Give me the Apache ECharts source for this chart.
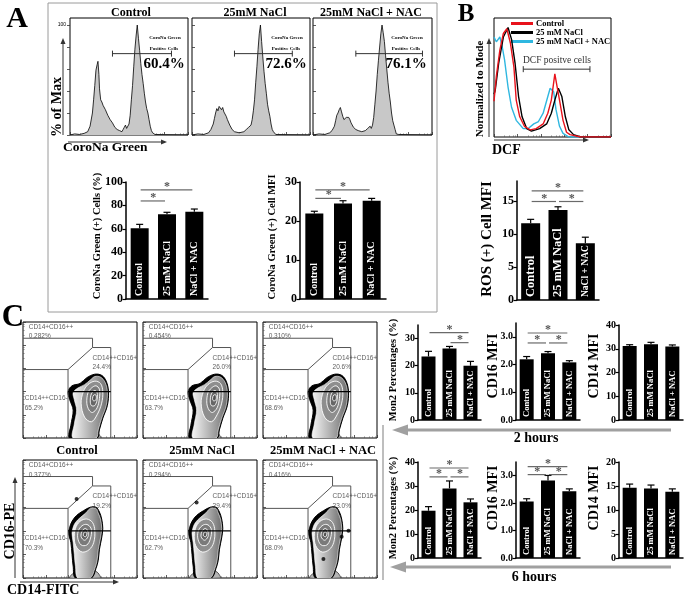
<!DOCTYPE html>
<html><head><meta charset="utf-8">
<script src="https://cdn.jsdelivr.net/npm/echarts@6/dist/echarts.min.js"></script>
<style>html,body{margin:0;padding:0;background:#fff}#c{width:686px;height:599px}</style>
</head><body><div id="c"></div><script>
const SERIF = '"Liberation Serif","Times New Roman",serif';
const SANS = '"Liberation Sans",Arial,sans-serif';

// ================= DATA =================
const groups = ['Control', '25 mM NaCl', 'NaCl + NAC'];
const histTitles = ['Control', '25mM NaCl', '25mM NaCl + NAC'];
const coronaPct = ['60.4%', '72.6%', '76.1%'];
const coronaGateLabel = ['CoroNa Green', 'Positive Cells'];
const histYTicks = [0, 20, 40, 60, 80, 100];
// x: channel (0-100 of the log scale), y: % of max
const histControl = [[0,0],[4,1],[8,0.5],[12,1.5],[15,3],[17,8],[19,20],[20,32],[21,45],[22,59],[23,64],[23.7,67],[24.5,55],[25,42],[26,32],[27,30],[28,27],[30,23],[32,18],[34,14],[36,11],[38,7],[40,5],[42,4],[44,3],[45,5],[46,7],[47,9],[48,6],[49,5],[50,10],[51,18],[52,32],[53,45],[54,62],[55,78],[56,90],[57,100],[58,88],[59,77],[60,65],[61,55],[62,47],[63,38],[64,30],[65,24],[66,20],[67,14],[68,8],[69,4],[70,2],[72,0.5],[80,0.3],[100,0]];
const histNaCl = [[0,0],[5,1],[10,0.5],[14,2],[16,5],[18,10],[19,15],[20,20],[21,24],[22,22],[23,26],[24,25],[25,23],[26,25],[27,21],[28,20],[29,17],[30,14],[32,9],[34,5],[36,3],[40,2],[44,3],[46,5],[48,7],[49,6],[50,9],[51,14],[52,22],[53,32],[54,48],[55,62],[56,78],[57,92],[58,100],[59,85],[60,71],[61,58],[62,47],[63,38],[64,28],[65,22],[66,17],[67,10],[68,5],[69,3],[71,0.5],[80,0.3],[100,0]];
const histNAC = [[0,0],[5,1],[10,0.5],[14,2],[16,4],[18,8],[19,13],[20,18],[21,20],[22,23],[23,25],[24,21],[25,17],[26,14],[27,15],[28,16],[29,17],[30,16],[31,14],[32,11],[34,7],[36,5],[38,4],[41,3],[44,4],[46,6],[48,8],[49,6],[50,9],[51,16],[52,28],[53,40],[54,55],[55,68],[56,80],[57,92],[58,100],[59,93],[60,85],[61,72],[62,60],[63,48],[64,38],[65,30],[66,20],[67,13],[68,9],[69,5],[70,1],[72,0.5],[80,0.3],[100,0]];
const coronaGates = [[36, 86, 74], [36, 85, 74], [36, 92, 74]]; // [from, to, level]

const dcfNames = ['Control', '25 mM NaCl', '25 mM NaCl + NAC'];
const dcfControl = [[0,30],[2,51],[5,73],[8,87],[11,91],[14,79],[17,59],[19,31],[22,17],[26,9],[31,6],[36,7],[42,11],[46,20],[49,31],[52,53],[54,42],[56,31],[59,14],[62,4],[65,2],[74,0],[100,0]];
const dcfNaCl = [[0,36],[1,39],[4,62],[8,84],[12,92],[15,82],[18,62],[21,34],[24,17],[28,7],[32,5],[39,7],[45,11],[49,20],[52,31],[55,41],[58,34],[61,17],[64,6],[68,2],[74,0],[100,0]];
const dcfNAC = [[0,84],[2,80],[5,84],[7,76],[9,65],[12,42],[15,25],[19,14],[25,7],[29,7],[34,11],[38,13],[42,20],[46,34],[48,41],[51,38],[53,23],[56,9],[59,3],[64,0],[100,0]];
const dcfGate = [[25, 82, 57]];
const dcfGateLabel = 'DCF positve cells';

const coronaCells = [60.5, 72.4, 74.6];
const coronaCellsErr = [3.3, 1.7, 2.3];
const coronaCellsSig = [[0, 1, 83.8], [0, 2, 93.2]];
const coronaCellsTicks = [0, 20, 40, 60, 80, 100];
const coronaMFI = [21.9, 24.5, 25.2];
const coronaMFIErr = [0.6, 0.7, 0.6];
const coronaMFISig = [[0, 1, 25.8], [0, 2, 28.0]];
const coronaMFITicks = [0, 10, 20, 30];
const rosMFI = [11.6, 13.6, 8.6];
const rosMFIErr = [0.6, 0.5, 0.9];
const rosMFISig = [[0, 2, 16.5], [0, 1, 14.9], [1, 2, 14.9]];
const rosTicks = [0, 5, 10, 15];

const mon2_2h = [23.4, 26.3, 20.0];
const mon2_2hErr = [1.9, 0.8, 1.6];
const mon2_2hSig = [[0, 2, 32.2], [1, 2, 28.5]];
const cd16_2h = [2.19, 2.41, 2.08];
const cd16_2hErr = [0.1, 0.06, 0.06];
const cd16_2hSig = [[0, 2, 3.14], [0, 1, 2.78], [1, 2, 2.78]];
const cd14_2h = [31.2, 31.9, 31.0];
const cd14_2hErr = [0.5, 0.8, 0.6];
const mon2_6h = [19.7, 29.0, 23.2];
const mon2_6hErr = [1.7, 3.1, 1.4];
const mon2_6hSig = [[0, 2, 37.5], [0, 1, 33.8], [1, 2, 33.8]];
const cd16_6h = [2.06, 2.83, 2.43];
const cd16_6hErr = [0.1, 0.18, 0.09];
const cd16_6hSig = [[0, 2, 3.33], [0, 1, 3.04], [1, 2, 3.04]];
const cd14_6h = [14.65, 14.5, 13.8];
const cd14_6hErr = [0.75, 0.7, 0.6];
const mon2Ticks2h = [0, 10, 20, 30];
const mon2Ticks6h = [0, 10, 20, 30, 40];
const cd16Ticks = [0, 1, 2, 3];
const cd14Ticks2h = [0, 10, 20, 30, 40];
const cd14Ticks6h = [0, 5, 10, 15, 20];
const hourLabels = ['2 hours', '6 hours'];

// flow contour plots (CD14-FITC x, CD16-PE y, 0-100 display units)
const gateNames = ['CD14+CD16++', 'CD14++CD16+', 'CD14++CD16-'];
const pctUL = [['0.282%', '0.454%', '0.310%'], ['0.377%', '0.294%', '0.416%']];
const pctUR = [['24.4%', '26.0%', '20.6%'], ['19.2%', '29.4%', '23.0%']];
const pctLL = [['65.2%', '63.7%', '68.6%'], ['70.3%', '62.7%', '68.0%']];
const gatePolylines = [
  [[0,86],[61,86],[61,78]],
  [[39.5,0],[39.5,59],[61,78],[77,78],[77,0]],
  [[0,59],[39.5,59]],
  [[39.5,40],[77,40]]
];
const contour2h = [
  [[41,0],[42,11],[44,24],[41,33],[39.5,40],[43,45],[50,47],[56,52],[63,55],[69,54],[73,49],[75,40],[74,28],[70,17],[67,7],[65,0]],
  [[44,0],[45,12],[47,24],[45,33],[44,39],[48,43],[54,46],[59,50],[63,53],[68,52.5],[72,48],[74,40],[73,28],[69,17],[66,7],[64,0]],
  [[51,30],[53,40],[57,46],[63,49],[68,47],[70,40],[69,30],[65,20],[60,14],[54,18]],
  [[56,30],[57,39],[60,43],[64,45],[67,42],[67,34],[65,26],[61,22],[58,24]],
  [[59,32],[60,38],[63,41],[65,39],[65,33],[63,28],[60,28]],
  [[61,34],[62,37],[64,37],[64,33],[62,32]]
];
const contour6h = [
  [[46,0],[44,10],[43,20],[42,30],[40,38],[41,43],[43,48],[47,53],[53,57],[59,60],[64,60],[67,56],[69,50],[70,42],[69,34],[67,24],[66,15],[64,8],[60,0]],
  [[48,0],[46,10],[45,20],[44,30],[43,38],[44,43],[46,47],[50,51],[55,55],[59,59],[64,59],[66,55],[68,50],[69,42],[68,34],[66,24],[65,15],[63,8],[59,0]],
  [[45,33],[46,42],[50,48],[56,50],[61,47],[63,40],[62,30],[58,24],[52,22],[47,26]],
  [[48,34],[49,41],[53,45],[57,45],[60,41],[59,33],[56,28],[51,28]],
  [[51,35],[52,40],[55,42],[57,39],[57,35],[54,32]],
  [[53,36],[54,39],[56,38],[55,35]]
];
const debris = [[41,0],[44,4],[50,7],[58,7.5],[65,5],[68,1],[68,0]];
const outliers = [[[], [], []], [[[47,67]], [[47,64]], [[75,40],[69,35],[53,16]]]];

// ================= BUILD =================
const grids = [], xAxes = [], yAxes = [], series = [], graphics = [];
const addGrid = g => (grids.push(g), grids.length - 1);
const addX = a => (xAxes.push(a), xAxes.length - 1);
const addY = a => (yAxes.push(a), yAxes.length - 1);

function txt(x, y, text, size, opt) {
  opt = opt || {};
  graphics.push({
    type: 'text', x, y, rotation: opt.rot || 0, z: 50,
    style: { text, fontSize: size, fontFamily: opt.family || SERIF, fontWeight: opt.weight || 'bold',
      fill: opt.color || '#000', align: opt.align || 'center', verticalAlign: 'middle' }
  });
}
function arrow(x1, y1, x2, y2, color, w, hl, hw) {
  const a = Math.atan2(y2 - y1, x2 - x1);
  const bx = x2 - hl * Math.cos(a), by = y2 - hl * Math.sin(a);
  const px = -Math.sin(a) * hw, py = Math.cos(a) * hw;
  graphics.push({ type: 'line', z: 40, shape: { x1, y1, x2: bx, y2: by }, style: { stroke: color, lineWidth: w } });
  graphics.push({ type: 'polygon', z: 40, shape: { points: [[x2, y2], [bx + px, by + py], [bx - px, by - py]] }, style: { fill: color } });
}

function errRender(params, api) {
  const i = api.value(0), v = api.value(1), e = api.value(2);
  const t = api.coord([i, v + e]), b = api.coord([i, v]);
  return { type: 'group', children: [
    { type: 'line', shape: { x1: t[0], y1: b[1], x2: t[0], y2: t[1] }, style: { stroke: '#000', lineWidth: 1.2 } },
    { type: 'line', shape: { x1: t[0] - 3.5, y1: t[1], x2: t[0] + 3.5, y2: t[1] }, style: { stroke: '#000', lineWidth: 1.2 } }
  ] };
}
function sigRender(params, api) {
  const i = api.value(0), j = api.value(1), y = api.value(2);
  const a = api.coord([i, y]), b = api.coord([j, y]);
  return { type: 'group', children: [
    { type: 'line', shape: { x1: a[0] + 1, y1: a[1], x2: b[0] - 2, y2: a[1] }, style: { stroke: '#6a6a6a', lineWidth: 1.2 } },
    { type: 'text', x: (a[0] + b[0]) / 2, y: a[1] + 3, style: { text: '*', fill: '#555', fontSize: 12, fontFamily: SERIF, fontWeight: 'bold', align: 'center', verticalAlign: 'bottom' } }
  ] };
}

function barChart(o) {
  const gi = addGrid({ left: o.left, top: o.top, width: o.width, height: o.height });
  const xi = addX({ type: 'category', gridIndex: gi, data: groups,
    axisLine: { show: true, lineStyle: { color: '#000', width: 1.5 } }, axisTick: { show: false }, axisLabel: { show: false } });
  const yi = addY({ type: 'value', gridIndex: gi, min: 0, max: o.max,
    axisLine: { show: true, lineStyle: { color: '#000', width: 1.5 } },
    axisTick: { show: true, length: 3.5, customValues: o.ticks, lineStyle: { color: '#000', width: 1.2 } },
    splitLine: { show: false },
    axisLabel: { customValues: o.ticks, margin: 3, color: '#000', fontFamily: SERIF, fontWeight: 'bold', fontSize: o.tickSize,
      formatter: o.fmt || (v => String(v)) } });
  const sizes = o.labelSizes || [o.labelSize, o.labelSize, o.labelSize];
  series.push({ type: 'bar', xAxisIndex: xi, yAxisIndex: yi, barWidth: o.barWidth,
    data: o.values.map((v, i) => ({ value: v, label: { fontSize: sizes[i] } })),
    itemStyle: { color: '#000' },
    label: { show: true, position: 'insideBottom', rotate: 90, align: 'left', verticalAlign: 'middle', distance: 3, overflow: 'none',
      color: '#fff', fontFamily: SERIF, fontWeight: 'bold', fontSize: o.labelSize, formatter: p => groups[p.dataIndex] } });
  series.push({ type: 'custom', xAxisIndex: xi, yAxisIndex: yi, renderItem: errRender, z: 3,
    data: o.values.map((v, i) => [i, v, o.errs[i]]) });
  if (o.sig) series.push({ type: 'custom', xAxisIndex: xi, yAxisIndex: yi, renderItem: sigRender, z: 3,
    encode: { x: 0, y: 2 }, data: o.sig });
  txt(o.titleX, o.titleY, o.title, o.titleSize, { rot: Math.PI / 2 });
}

function logTickAxis(gi, isY) {
  return { type: 'log', gridIndex: gi, min: 1, max: 100000, position: isY ? 'left' : 'bottom',
    axisLine: { show: false }, axisLabel: { show: false }, splitLine: { show: false },
    axisTick: { show: true, inside: true, length: 3, lineStyle: { color: '#333', width: 0.8 } },
    minorTick: { show: true, splitNumber: 5, length: 1.6, lineStyle: { color: '#555', width: 0.6 } } };
}

function gateRender(params, api) {
  const a = api.coord([api.value(0), api.value(2)]), b = api.coord([api.value(1), api.value(2)]);
  const st = { stroke: '#333', lineWidth: 1 };
  return { type: 'group', children: [
    { type: 'line', shape: { x1: a[0], y1: a[1], x2: b[0], y2: b[1] }, style: st },
    { type: 'line', shape: { x1: a[0], y1: a[1] - 3, x2: a[0], y2: a[1] + 3 }, style: st },
    { type: 'line', shape: { x1: b[0], y1: b[1] - 3, x2: b[0], y2: b[1] + 3 }, style: st }
  ] };
}

// ---------- Panel A: CoroNa Green histograms ----------
const histData = [histControl, histNaCl, histNAC];
const histLeft = [70, 192, 313], histW = [118, 118, 119];
const histTitleX = [131, 255, 371], gateTxtX = [164, 286, 406];
histData.forEach((d, k) => {
  const gi = addGrid({ left: histLeft[k], top: 18, width: histW[k], height: 117, show: true, borderColor: '#000', borderWidth: 1, backgroundColor: 'transparent' });
  const xi = addX({ type: 'value', gridIndex: gi, min: 0, max: 100, position: 'top', show: false });
  addX(logTickAxis(gi, false));
  const yi = addY({ type: 'value', gridIndex: gi, min: 0, max: 106.4, position: 'left',
    axisLine: { show: false }, splitLine: { show: false },
    axisTick: { show: true, inside: k > 0, length: 3, customValues: histYTicks, lineStyle: { color: '#333', width: 0.8 } },
    axisLabel: { show: k === 0, customValues: [100], fontSize: 5, margin: 4, color: '#000', fontFamily: SANS } });
  series.push({ type: 'line', xAxisIndex: xi, yAxisIndex: yi, data: d, symbol: 'none', smooth: false,
    lineStyle: { color: '#000', width: 0.8 }, areaStyle: { color: '#c8c8c8', opacity: 1 }, z: 2 });
  series.push({ type: 'custom', xAxisIndex: xi, yAxisIndex: yi, renderItem: gateRender, z: 4,
    encode: { x: [0, 1], y: 2 }, data: [coronaGates[k]] });
  txt(histTitleX[k], 13, histTitles[k], 12);
  txt(gateTxtX[k] + 1, 38, coronaGateLabel[0], 5);
  txt(gateTxtX[k], 48.5, coronaGateLabel[1], 5);
  txt(gateTxtX[k], 64, coronaPct[k], 15);
});
arrow(63, 135, 63, 38, '#333', 1, 6, 2.5);
arrow(68, 142, 167, 142, '#333', 1, 6, 2.5);
txt(63, 148, 'CoroNa Green', 13.5, { align: 'left' });
txt(57, 107, '% of Max', 14, { rot: Math.PI / 2 });

// ---------- Panel A bars ----------
barChart({ left: 126, top: 182, width: 82, height: 117, max: 100, ticks: coronaCellsTicks, values: coronaCells, errs: coronaCellsErr,
  sig: coronaCellsSig, barWidth: 18, tickSize: 12, labelSize: 10, title: 'CoroNa Green (+) Cells (%)', titleX: 97, titleY: 236, titleSize: 10.5 });
barChart({ left: 300, top: 182, width: 86, height: 117, max: 30, ticks: coronaMFITicks, values: coronaMFI, errs: coronaMFIErr,
  sig: coronaMFISig, barWidth: 18, tickSize: 12, labelSize: 10, title: 'CoroNa Green (+) Cell MFI', titleX: 272, titleY: 237, titleSize: 10.5 });

// ---------- Panel B ----------
{
  const gi = addGrid({ left: 494, top: 18, width: 117, height: 119, show: true, borderColor: '#000', borderWidth: 1, backgroundColor: 'transparent' });
  const xi = addX({ type: 'value', gridIndex: gi, min: 0, max: 100, position: 'top', show: false });
  addX(logTickAxis(gi, false));
  const yi = addY({ type: 'value', gridIndex: gi, min: 0, max: 100, show: false });
  const cols = ['#e8121b', '#000000', '#2fb7e0'];
  [dcfControl, dcfNaCl, dcfNAC].forEach((d, k) => {
    series.push({ type: 'line', name: dcfNames[k], xAxisIndex: xi, yAxisIndex: yi, data: d, symbol: 'none',
      lineStyle: { color: cols[k], width: 1.4 }, itemStyle: { color: cols[k] }, z: 3 - k + 2 });
  });
  series.push({ type: 'custom', xAxisIndex: xi, yAxisIndex: yi, renderItem: gateRender, z: 4,
    encode: { x: [0, 1], y: 2 }, data: dcfGate });
  txt(557, 60, dcfGateLabel, 9.5, { weight: 'normal', color: '#333' });
  arrow(489, 137, 489, 38, '#333', 1, 6, 2.5);
  arrow(494, 140, 589, 140, '#333', 1, 6, 2.5);
  txt(492, 150, 'DCF', 14, { align: 'left' });
  txt(480, 89, 'Normalized to Mode', 11, { rot: Math.PI / 2 });
  txt(466, 15, 'B', 25);
}
barChart({ left: 517, top: 181, width: 82, height: 119, max: 18, ticks: rosTicks, values: rosMFI, errs: rosMFIErr,
  sig: rosMFISig, barWidth: 19, tickSize: 12, labelSize: 12.5, labelSizes: [12.5, 12.5, 9.5],
  title: 'ROS (+) Cell MFI', titleX: 487, titleY: 239, titleSize: 15 });

// ---------- Panel C contour plots ----------
const ringStyles = [
  { fill: '#000', stroke: '#000', lineWidth: 1 },
  { fill: new echarts.graphic.LinearGradient(0, 0, 1, 0, [{ offset: 0, color: '#f6f6f6' }, { offset: 1, color: '#6e6e6e' }]), stroke: '#fff', lineWidth: 0.6 },
  { fill: '#8e8e8e', stroke: '#fff', lineWidth: 0.9 },
  { fill: '#7a7a7a', stroke: '#fff', lineWidth: 0.9 },
  { fill: '#666666', stroke: '#fff', lineWidth: 0.9 },
  { fill: '#505050', stroke: '#fff', lineWidth: 0.9 }
];
const cLeft = [23, 143, 263], cTop = [322, 460], cH = [116, 118];
[contour2h, contour6h].forEach((rings, r) => {
  for (let c = 0; c < 3; c++) {
    const gi = addGrid({ left: cLeft[c], top: cTop[r], width: 114, height: cH[r], show: true, borderColor: '#000', borderWidth: 1, backgroundColor: 'transparent' });
    const xi = addX({ type: 'value', gridIndex: gi, min: 0, max: 100, position: 'top', show: false });
    const yi = addY({ type: 'value', gridIndex: gi, min: 0, max: 100, position: 'right', show: false });
    addX(logTickAxis(gi, false));
    addY(logTickAxis(gi, true));
    series.push({ type: 'custom', xAxisIndex: xi, yAxisIndex: yi, clip: true, z: 2, data: [[0]],
      renderItem: (p, api) => ({ type: 'polygon', shape: { points: debris.map(q => api.coord(q)), smooth: 0.3 }, style: { fill: '#b4b4b4', stroke: '#333', lineWidth: 0.8 } }) });
    series.push({ type: 'custom', xAxisIndex: xi, yAxisIndex: yi, clip: true, z: 3, data: rings.map((_, k) => [k]),
      renderItem: (p, api) => { const k = api.value(0); return { type: 'polygon', shape: { points: rings[k].map(q => api.coord(q)), smooth: 0.35 }, style: ringStyles[k] }; } });
    series.push({ type: 'custom', xAxisIndex: xi, yAxisIndex: yi, clip: true, z: 5, data: gatePolylines.map((_, k) => [k]),
      renderItem: (p, api) => { const k = api.value(0); return { type: 'polyline', shape: { points: gatePolylines[k].map(q => api.coord(q)) },
        style: { stroke: k === 3 ? '#000' : '#555', lineWidth: k === 3 ? 1.2 : 1, fill: null } }; } });
    if (outliers[r][c].length) series.push({ type: 'scatter', xAxisIndex: xi, yAxisIndex: yi, z: 6, data: outliers[r][c], symbolSize: 4, itemStyle: { color: '#000' } });
    const labs = [[5, 95.5, gateNames[0]], [5, 87.5, pctUL[r][c]], [61, 69, gateNames[1]], [61, 61, pctUR[r][c]], [1.5, 34, gateNames[2]], [1.5, 25.5, pctLL[r][c]]];
    series.push({ type: 'scatter', xAxisIndex: xi, yAxisIndex: yi, z: 7, symbolSize: 0, silent: true,
      data: labs.map(l => ({ value: [l[0], l[1]], name: l[2] })),
      label: { show: true, position: 'right', distance: 0, formatter: '{b}', fontSize: 6.5, fontFamily: SANS, color: '#333' } });
  }
});
const rowTitleX = [77, 202, 323];
histTitles.forEach((t, c) => txt(rowTitleX[c], 451, t, 12.5));
txt(13, 318, 'C', 31);
arrow(15, 578, 15, 477, '#333', 1, 6, 2.5);
arrow(20, 582, 119, 582, '#333', 1, 6, 2.5);
txt(10, 531, 'CD16-PE', 14, { rot: Math.PI / 2 });
txt(7, 590, 'CD14-FITC', 14, { align: 'left' });

// ---------- Panel C bars ----------
const cdBar = { barWidth: 14, tickSize: 10, labelSize: 8.5 };
barChart(Object.assign({ left: 418, top: 325, width: 63, height: 95, max: 35, ticks: mon2Ticks2h, values: mon2_2h, errs: mon2_2hErr, sig: mon2_2hSig,
  title: 'Mon2 Percentages (%)', titleX: 393, titleY: 370, titleSize: 10.5 }, cdBar));
barChart(Object.assign({ left: 516, top: 323, width: 64, height: 97, max: 3.5, ticks: cd16Ticks, values: cd16_2h, errs: cd16_2hErr, sig: cd16_2hSig,
  fmt: v => v.toFixed(1), title: 'CD16 MFI', titleX: 493, titleY: 366, titleSize: 14 }, cdBar));
barChart(Object.assign({ left: 619, top: 325, width: 64, height: 95, max: 40, ticks: cd14Ticks2h, values: cd14_2h, errs: cd14_2hErr,
  title: 'CD14 MFI', titleX: 594, titleY: 366, titleSize: 14 }, cdBar));
barChart(Object.assign({ left: 418, top: 462, width: 63, height: 96, max: 40, ticks: mon2Ticks6h, values: mon2_6h, errs: mon2_6hErr, sig: mon2_6hSig,
  title: 'Mon2 Percentages (%)', titleX: 393, titleY: 508, titleSize: 10.5 }, cdBar));
barChart(Object.assign({ left: 516, top: 462, width: 64, height: 96, max: 3.5, ticks: cd16Ticks, values: cd16_6h, errs: cd16_6hErr, sig: cd16_6hSig,
  fmt: v => v.toFixed(1), title: 'CD16 MFI', titleX: 493, titleY: 498, titleSize: 14 }, cdBar));
barChart(Object.assign({ left: 619, top: 462, width: 64, height: 96, max: 20, ticks: cd14Ticks6h, values: cd14_6h, errs: cd14_6hErr,
  title: 'CD14 MFI', titleX: 594, titleY: 498, titleSize: 14 }, cdBar));

arrow(671, 430, 392, 430, '#a0a0a0', 3, 16, 5.5);
arrow(671, 567, 390, 567, '#a0a0a0', 3, 16, 5.5);
txt(536, 438.5, hourLabels[0], 14);
txt(534, 577, hourLabels[1], 14);
graphics.push({ type: 'line', z: 40, shape: { x1: 383, y1: 425, x2: 383, y2: 580 }, style: { stroke: '#a8a8a8', lineWidth: 1.5 } });

// Panel A frame + letter
graphics.push({ type: 'rect', z: 0, shape: { x: 48, y: 3, width: 389, height: 309 }, style: { fill: null, stroke: '#9a9a9a', lineWidth: 1 } });
txt(17, 19, 'A', 30);

const chart = echarts.init(document.getElementById('c'), null, { renderer: 'canvas' });
chart.setOption({
  animation: false,
  backgroundColor: '#fff',
  textStyle: { fontFamily: SERIF },
  legend: { data: dcfNames, orient: 'vertical', left: 511, top: 19, padding: 0, itemGap: 0, itemWidth: 22, itemHeight: 3,
    icon: 'rect', selectedMode: false,
    textStyle: { fontFamily: SERIF, fontWeight: 'bold', fontSize: 8.5, color: '#000', lineHeight: 8, padding: [0, 0, 0, -2] } },
  grid: grids, xAxis: xAxes, yAxis: yAxes, series, graphic: graphics
});
</script></body></html>
